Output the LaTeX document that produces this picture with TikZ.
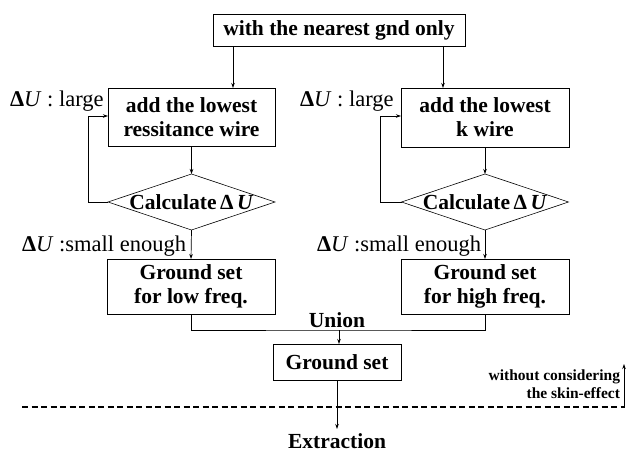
\documentclass[tikz,border=0pt]{standalone}
\usepackage{fontspec}
\setmainfont{Liberation Serif}
\usetikzlibrary{shapes.geometric,arrows.meta}
\begin{document}
\begin{tikzpicture}[x=1pt,y=-1pt,
  every node/.style={inner sep=0pt,outer sep=0pt},
  big/.style={font=\fontsize{21.5}{24}\selectfont\bfseries},
  box/.style={draw,line width=0.6pt,big,align=center},
  dec/.style={draw,line width=0.6pt,diamond,aspect=3},
  lbl/.style={font=\fontsize{22.5}{24}\selectfont,anchor=base west},
  line/.style={line width=0.7pt},
  arr/.style={line width=0.7pt,-{Stealth[length=5pt,width=3.5pt]}}]
\useasboundingbox (0,0) rectangle (638,453);
% start box
\node[box,minimum width=252,minimum height=32] (top) at (339,30) {with the nearest gnd only};
% iteration boxes
\node[box,minimum width=167,minimum height=58] (addL) at (191.5,117) {add the lowest\\ressitance wire};
\node[box,minimum width=168,minimum height=59] (addR) at (485,117.5) {add the lowest\\k wire};
% decisions
\node[dec,minimum width=167,minimum height=56] (calcL) at (191.5,202) {};
\node[big] at (calcL) {Calculate\,Δ\,\textit{U}};
\node[dec,minimum width=167,minimum height=56] (calcR) at (485,202) {};
\node[big] at (calcR) {Calculate\,Δ\,\textit{U}};
% result boxes
\node[box,minimum width=168,minimum height=55] (gsL) at (191,286.5) {Ground set\\for low freq.};
\node[box,minimum width=168,minimum height=55] (gsR) at (485,286.5) {Ground set\\for high freq.};
\node[box,minimum width=128,minimum height=36] (gs) at (337,362) {Ground set};
\node[big] (ext) at (337,441) {Extraction};
% labels
\node[lbl] at (10,106) {{\bfseries Δ}\textit{U} : large};
\node[lbl] at (300,106) {{\bfseries Δ}\textit{U} : large};
\node[lbl] at (22,251) {{\bfseries Δ}\textit{U} :small enough};
\node[lbl] at (317,251) {{\bfseries Δ}\textit{U} :small enough};
\node[big,anchor=base] at (337,327) {Union};
\node[font=\fontsize{15.5}{17.5}\selectfont\bfseries,align=right,anchor=east] (skin) at (620,384) {without considering\\the skin-effect};
% connectors
\coordinate (tl) at (233,46);
\coordinate (tr) at (443,46);
\draw[arr] (tl) -- (tl |- addL.north);
\draw[arr] (tr) -- (tr |- addR.north);
\draw[arr] (addL.south) -- (calcL.north);
\draw[arr] (addR.south) -- (calcR.north);
\coordinate (fbL) at (88,116);
\coordinate (fbR) at (380,116);
\draw[arr] (calcL.west) -| (fbL) -- (fbL -| addL.west);
\draw[arr] (calcR.west) -| (fbR) -- (fbR -| addR.west);
\draw[arr] (calcL.south) -- (gsL.north);
\draw[arr] (calcR.south) -- (gsR.north);
\coordinate (join) at (339,330);
\draw[line] (gsL.south) |- (join) -| (gsR.south);
\draw[arr] (join) -- (join |- gs.north);
\draw[arr] (gs.south) -- (337,429);
% boundary line
\coordinate (dl) at (22,407);
\coordinate (dr) at (625,407);
\draw[line width=2.6pt,dash pattern=on 6pt off 3.5pt] (dl) -- (dr);
\draw[arr] (624,406) -- (624,364);
\end{tikzpicture}
\end{document}
